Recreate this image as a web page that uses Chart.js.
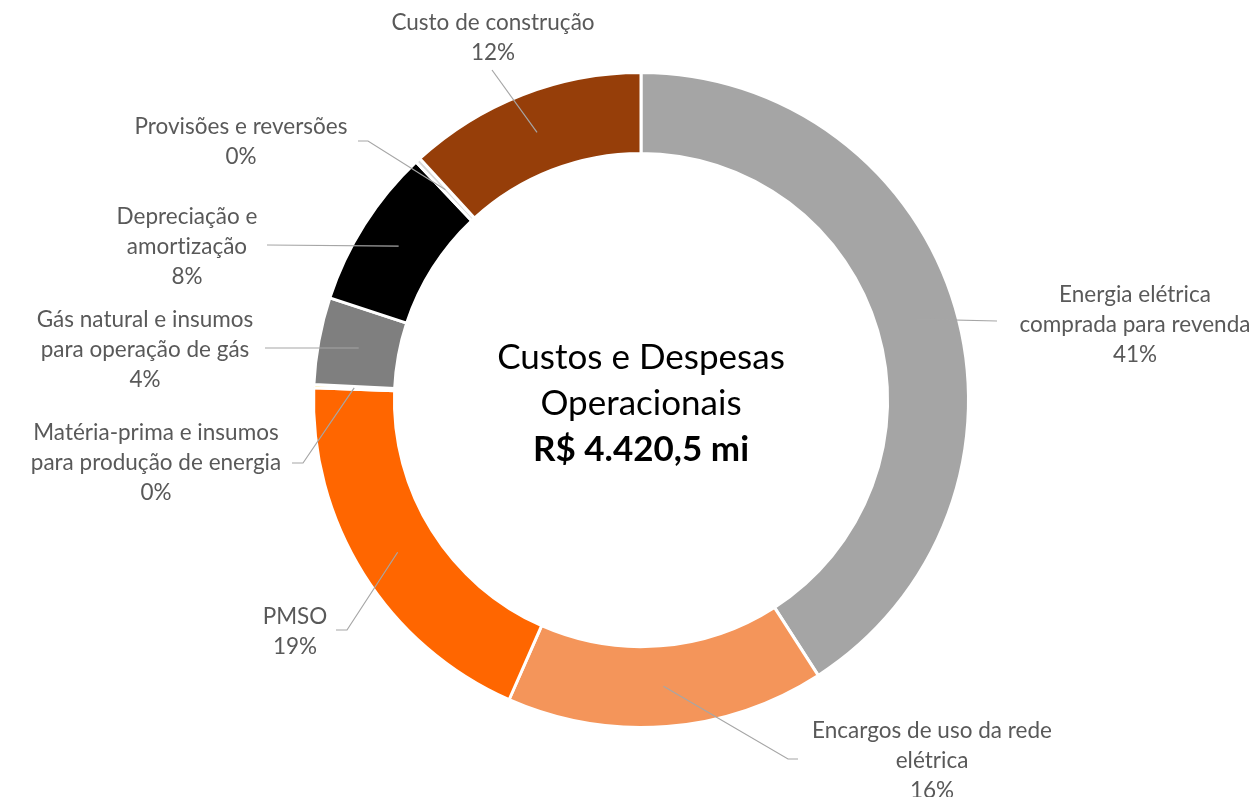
<!DOCTYPE html>
<html>
<head>
<meta charset="utf-8">
<script src="https://cdn.jsdelivr.net/npm/chart.js@4/dist/chart.umd.min.js"></script>
<style>
html,body{margin:0;padding:0;background:#ffffff;}
#wrap{width:1256px;height:797px;position:relative;}
canvas{display:block;}
</style>
</head>
<body>
<div id="wrap"><canvas id="c" width="1256" height="797"></canvas></div>
<script>
// ---- Data ----
const categories = [
  'Energia elétrica comprada para revenda',
  'Encargos de uso da rede elétrica',
  'PMSO',
  'Matéria-prima e insumos para produção de energia',
  'Gás natural e insumos para operação de gás',
  'Depreciação e amortização',
  'Provisões e reversões',
  'Custo de construção'
];
const labelLines = [
  ['Energia elétrica', 'comprada para revenda'],
  ['Encargos de uso da rede', 'elétrica'],
  ['PMSO'],
  ['Matéria-prima e insumos', 'para produção de energia'],
  ['Gás natural e insumos', 'para operação de gás'],
  ['Depreciação e', 'amortização'],
  ['Provisões e reversões'],
  ['Custo de construção']
];
const sharePercent = [40.9, 15.7, 19.0, 0.15, 4.3, 7.9, 0.25, 11.8];
const sliceColors = ['#A5A5A5', '#F4955A', '#FF6600', '#FFC000', '#7F7F7F', '#000000', '#D9D9D9', '#963E09'];
const centerTitle = ['Custos e Despesas', 'Operacionais'];
const centerTotal = 'R$ 4.420,5 mi';

// ---- Label layout (text centre x, first line y, leader path after slice anchor) ----
const labelLayout = [
  {x: 1135, y: 295, path: [[997, 321]]},
  {x: 932,  y: 731, path: [[788, 759], [798, 759]]},
  {x: 295,  y: 617, path: [[347, 630], [336, 630]]},
  {x: 156,  y: 433, path: [[303, 463], [292, 463]]},
  {x: 145,  y: 320, path: [[265, 348]]},
  {x: 187,  y: 217, path: [[267, 245]]},
  {x: 241,  y: 127, path: [[368, 141], [358, 141]]},
  {x: 493,  y: 23,  path: [[492, 70]]}
];

const FONT_FAMILY = 'Lato, "Open Sans", sans-serif';
const LABEL_FONT = '22.5px ' + FONT_FAMILY;
const LINE_H = 30;

const labelsPlugin = {
  id: 'labelsPlugin',
  afterDatasetsDraw(chart) {
    const ctx = chart.ctx;
    const meta = chart.getDatasetMeta(0);
    ctx.save();
    try { ctx.letterSpacing = '0.01px'; } catch (e) {}
    meta.data.forEach((arc, i) => {
      const p = arc.getProps(['x', 'y', 'startAngle', 'endAngle', 'innerRadius', 'outerRadius'], true);
      const a = (p.startAngle + p.endAngle) / 2;
      const r = (p.innerRadius + p.outerRadius) / 2;
      const ax = p.x + Math.cos(a) * r;
      const ay = p.y + Math.sin(a) * r;
      const lay = labelLayout[i];
      ctx.beginPath();
      ctx.moveTo(ax, ay);
      lay.path.forEach(pt => ctx.lineTo(pt[0], pt[1]));
      ctx.strokeStyle = '#A6A6A6';
      ctx.lineWidth = 1.2;
      ctx.stroke();
      const lines = labelLines[i].concat([Math.round(sharePercent[i]) + '%']);
      ctx.fillStyle = '#595959';
      ctx.font = LABEL_FONT;
      ctx.textAlign = 'center';
      ctx.textBaseline = 'middle';
      lines.forEach((t, k) => ctx.fillText(t, lay.x, lay.y + k * LINE_H));
    });
    // centre text
    const cx = (chart.chartArea.left + chart.chartArea.right) / 2;
    const cy = (chart.chartArea.top + chart.chartArea.bottom) / 2;
    ctx.fillStyle = '#000000';
    ctx.textAlign = 'center';
    ctx.textBaseline = 'middle';
    ctx.font = '35px ' + FONT_FAMILY;
    ctx.fillText(centerTitle[0], cx, cy - 42);
    ctx.fillText(centerTitle[1], cx, cy + 4);
    ctx.font = 'bold 35px ' + FONT_FAMILY;
    ctx.fillText(centerTotal, cx, cy + 50);
    ctx.restore();
  }
};

new Chart(document.getElementById('c'), {
  type: 'doughnut',
  data: {
    labels: categories,
    datasets: [{
      data: sharePercent,
      backgroundColor: sliceColors,
      borderColor: '#ffffff',
      borderWidth: 3,
      hoverOffset: 0
    }]
  },
  options: {
    responsive: false,
    animation: false,
    devicePixelRatio: 1,
    cutout: '75.3%',
    layout: {padding: {left: 312, right: 286, top: 71, bottom: 68}},
    plugins: {legend: {display: false}, tooltip: {enabled: false}}
  },
  plugins: [labelsPlugin]
});
</script>
</body>
</html>
